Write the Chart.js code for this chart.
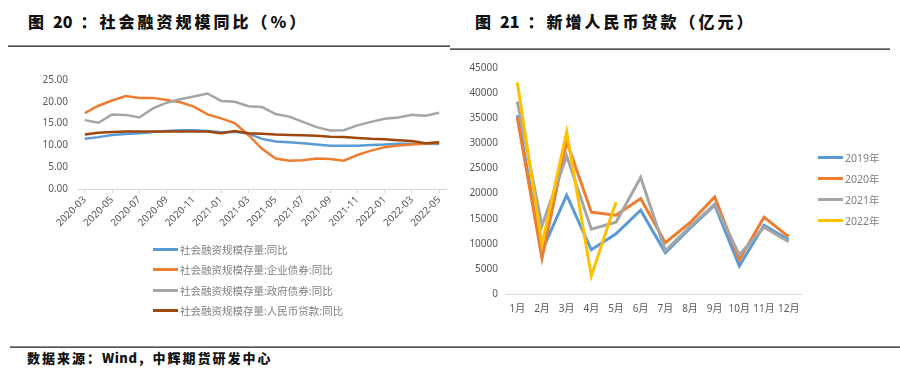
<!DOCTYPE html>
<html>
<head>
<meta charset="utf-8">
<script src="https://cdn.jsdelivr.net/npm/chart.js@4.4.1/dist/chart.umd.min.js"></script>
<style>
    body { margin: 0; width: 900px; height: 372px; background: #fff; overflow: hidden; position: relative; font-family: 'Noto Sans', 'Noto Sans CJK SC', sans-serif; }
    .abs { position: absolute; }
    .title { font-family: 'Noto Sans CJK SC', sans-serif; font-weight: 900; font-size: 16px; letter-spacing: 3px; line-height: 20px; color: #111; white-space: nowrap; }
    .title .num { letter-spacing: 0; margin-left: 6px; margin-right: 8px; }
    .rule { height: 2px; background: linear-gradient(#aaa, #333); }
    .legend-row { position: absolute; display: flex; align-items: center; height: 14px; white-space: nowrap; font-size: 10.5px; color: #7f7f7f; font-family: 'Noto Sans', 'Noto Sans CJK SC', sans-serif; }
    .legend-row .swatch { width: 25px; height: 3px; margin-right: 2px; }
    .footer { font-family: 'Noto Sans CJK SC', sans-serif; font-weight: 900; font-size: 13px; letter-spacing: 2px; line-height: 16px; color: #111; white-space: nowrap; }
    .footer .latin { letter-spacing: 0.5px; }
</style>
</head>
<body>
<div class="abs title" style="left:28px; top:11px;">图<span class="num">20</span>：社会融资规模同比（%）</div>
<div class="abs title" style="left:475px; top:11px;">图<span class="num">21</span>：新增人民币贷款（亿元）</div>
<div class="abs rule" style="left:8px; top:45px; width:442px;"></div>
<div class="abs rule" style="left:450px; top:48px; width:440px;"></div>

<canvas id="tsf-chart" class="abs" width="450" height="250" style="left:0; top:0;"></canvas>
<canvas id="loan-chart" class="abs" width="450" height="330" style="left:450px; top:0;"></canvas>
<div id="tsf-legend"></div>
<div id="loan-legend"></div>

<div class="abs rule" style="left:10px; top:346px; width:890px;"></div>
<div class="abs footer" style="left:27px; top:350px;">数据来源：<span class="latin">Wind</span>，中辉期货研发中心</div>

<script>
// 图20 社融规模同比 (%)
const tsfMonths = ['2020-03', '2020-04', '2020-05', '2020-06', '2020-07', '2020-08', '2020-09', '2020-10', '2020-11', '2020-12',
    '2021-01', '2021-02', '2021-03', '2021-04', '2021-05', '2021-06', '2021-07', '2021-08', '2021-09', '2021-10', '2021-11', '2021-12',
    '2022-01', '2022-02', '2022-03', '2022-04', '2022-05'];
const tsfStock = [11.5, 11.9, 12.4, 12.6, 12.8, 13.1, 13.3, 13.5, 13.5, 13.3, 13.0, 13.1, 12.7, 11.5, 10.9, 10.7, 10.5, 10.2, 9.9, 9.9, 9.9, 10.1, 10.2, 10.4, 10.4, 10.4, 10.3];
const tsfCorpBond = [17.4, 19.1, 20.3, 21.3, 20.9, 20.9, 20.4, 19.9, 18.9, 17.1, 16.2, 15.1, 12.4, 9.2, 7.0, 6.5, 6.6, 7.0, 6.9, 6.5, 7.8, 8.8, 9.6, 10.0, 10.2, 10.4, 10.6];
const tsfGovBond = [15.8, 15.2, 17.1, 17.0, 16.4, 18.5, 19.8, 20.6, 21.2, 21.9, 20.2, 20.0, 19.0, 18.8, 17.2, 16.6, 15.4, 14.2, 13.4, 13.5, 14.6, 15.4, 16.1, 16.4, 17.0, 16.8, 17.5];
const tsfRmbLoan = [12.5, 12.9, 13.1, 13.2, 13.2, 13.2, 13.2, 13.2, 13.2, 13.2, 12.8, 13.3, 12.8, 12.7, 12.5, 12.4, 12.3, 12.2, 12.0, 11.9, 11.7, 11.5, 11.4, 11.2, 11.0, 10.5, 10.7];
const tsfNames = ['社会融资规模存量:同比', '社会融资规模存量:企业债券:同比', '社会融资规模存量:政府债券:同比', '社会融资规模存量:人民币贷款:同比'];
const tsfTicks = [0, 5, 10, 15, 20, 25];

// 图21 新增人民币贷款 (亿元)
const loanMonths = ['1月', '2月', '3月', '4月', '5月', '6月', '7月', '8月', '9月', '10月', '11月', '12月'];
const loans2019 = [35600, 8600, 19700, 8800, 12000, 16700, 8200, 13100, 17700, 5600, 13700, 10800];
const loans2020 = [35100, 7100, 30400, 16300, 15700, 19000, 10200, 14200, 19300, 6800, 15300, 11400];
const loans2021 = [38300, 13600, 27500, 12900, 14300, 23200, 8600, 13400, 17900, 7800, 13300, 10400];
const loans2022 = [42100, 9800, 32300, 3600, 18300];
const loanNames = ['2019年', '2020年', '2021年', '2022年'];

const tickColor = '#595959';
const axisColor = '#d9d9d9';

Chart.defaults.font.family = "'Noto Sans', 'Noto Sans CJK SC', sans-serif";
Chart.defaults.font.size = 10;
Chart.defaults.color = tickColor;

const makeLine = (label, data, color, order, width) => ({
    label: label,
    data: data,
    borderColor: color,
    backgroundColor: color,
    borderWidth: width,
    pointRadius: 0,
    tension: 0,
    fill: false,
    order: order
});

const buildLegend = (holderId, chart, left, tops) => {
    const holder = document.getElementById(holderId);
    chart.data.datasets.forEach((ds, i) => {
        const row = document.createElement('div');
        row.className = 'legend-row';
        row.style.left = left + 'px';
        row.style.top = (tops[i] - 7) + 'px';
        const swatch = document.createElement('span');
        swatch.className = 'swatch';
        swatch.style.background = ds.borderColor;
        const text = document.createElement('span');
        text.textContent = ds.label;
        row.appendChild(swatch);
        row.appendChild(text);
        holder.appendChild(row);
    });
};

const tsfColors = ['#5B9BD5', '#ED7D31', '#A5A5A5', '#9E480E'];
const tsfSeries = [tsfStock, tsfCorpBond, tsfGovBond, tsfRmbLoan];

const tsfChart = new Chart(document.getElementById('tsf-chart'), {
    type: 'line',
    data: {
        labels: tsfMonths,
        datasets: tsfSeries.map((s, i) => makeLine(tsfNames[i], s, tsfColors[i], tsfSeries.length - i, 2.5))
    },
    options: {
        responsive: false,
        animation: false,
        layout: { padding: { top: 80, left: 0, right: 4, bottom: 0 } },
        plugins: { legend: { display: false }, tooltip: { enabled: false } },
        scales: {
            x: {
                type: 'category',
                offset: true,
                grid: {
                    drawOnChartArea: false,
                    drawTicks: true,
                    tickLength: 4,
                    color: (c) => (c.index % 2 === 0 ? axisColor : 'rgba(0,0,0,0)')
                },
                border: { color: axisColor },
                ticks: {
                    autoSkip: false,
                    minRotation: 45,
                    maxRotation: 45,
                    padding: 1,
                    callback: function(value, index) {
                        return index % 2 === 0 ? tsfMonths[index] : '';
                    }
                },
                afterFit: (scale) => { scale.height = 61; }
            },
            y: {
                min: 0,
                max: 25,
                afterBuildTicks: (scale) => { scale.ticks = tsfTicks.map(v => ({ value: v })); },
                grid: { display: false, drawTicks: false },
                border: { display: false },
                ticks: {
                    padding: 10,
                    callback: (v) => Number(v).toFixed(2)
                },
                afterFit: (scale) => { scale.width = 78; }
            }
        }
    }
});
buildLegend('tsf-legend', tsfChart, 153, [249, 269, 290, 310]);

const loanColors = ['#5B9BD5', '#ED7D31', '#A5A5A5', '#FFC000'];
const loanSeries = [loans2019, loans2020, loans2021, loans2022];

const loanChart = new Chart(document.getElementById('loan-chart'), {
    type: 'line',
    data: {
        labels: loanMonths,
        datasets: loanSeries.map((s, i) => makeLine(loanNames[i], s, loanColors[i], loanSeries.length - i, 3))
    },
    options: {
        responsive: false,
        animation: false,
        layout: { padding: { top: 68, left: 0, right: 99, bottom: 0 } },
        plugins: { legend: { display: false }, tooltip: { enabled: false } },
        scales: {
            x: {
                type: 'category',
                offset: true,
                grid: { display: false, drawTicks: false },
                border: { color: axisColor },
                ticks: { autoSkip: false, maxRotation: 0, padding: 9 },
                afterFit: (scale) => { scale.height = 36; }
            },
            y: {
                min: 0,
                max: 45000,
                ticks: {
                    stepSize: 5000,
                    padding: 7,
                    callback: (v) => String(v)
                },
                grid: { display: false, drawTicks: false },
                border: { display: false },
                afterFit: (scale) => { scale.width = 55; }
            }
        }
    }
});
buildLegend('loan-legend', loanChart, 818, [157, 178, 199, 220]);
</script>
</body>
</html>
